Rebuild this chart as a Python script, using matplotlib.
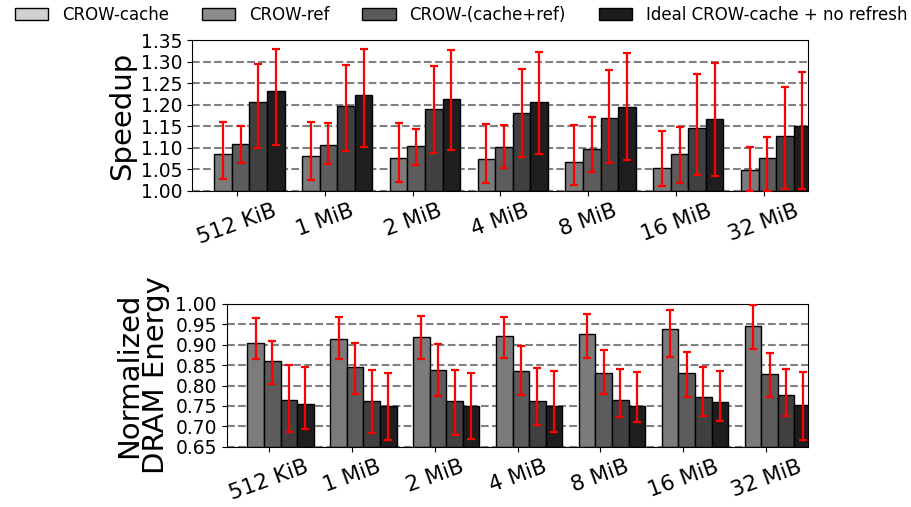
import numpy as np
import matplotlib
matplotlib.use("Agg")
import matplotlib.pyplot as plt
from matplotlib.patches import Patch

# Data
llc_sizes = ["512 KiB", "1 MiB", "2 MiB", "4 MiB", "8 MiB", "16 MiB", "32 MiB"]
legend_names = ["CROW-cache", "CROW-ref", "CROW-(cache+ref)", "Ideal CROW-cache + no refresh"]

speedup = [
    [1.085, 1.080, 1.076, 1.073, 1.067, 1.054, 1.048],
    [1.109, 1.107, 1.104, 1.101, 1.097, 1.085, 1.077],
    [1.206, 1.196, 1.189, 1.181, 1.170, 1.145, 1.128],
    [1.231, 1.222, 1.214, 1.206, 1.195, 1.168, 1.150],
]
speedup_hi = [
    [1.159, 1.159, 1.157, 1.155, 1.152, 1.140, 1.102],
    [1.151, 1.158, 1.144, 1.153, 1.171, 1.148, 1.125],
    [1.294, 1.292, 1.290, 1.283, 1.280, 1.271, 1.242],
    [1.329, 1.328, 1.327, 1.322, 1.320, 1.296, 1.275],
]
speedup_lo = [
    [1.028, 1.025, 1.021, 1.018, 1.015, 1.012, 1.000],
    [1.065, 1.062, 1.061, 1.054, 1.044, 1.019, 1.000],
    [1.100, 1.093, 1.088, 1.078, 1.066, 1.038, 1.005],
    [1.107, 1.102, 1.096, 1.086, 1.072, 1.035, 1.005],
]

energy = [
    [0.905, 0.914, 0.919, 0.922, 0.927, 0.938, 0.945],
    [0.859, 0.845, 0.839, 0.836, 0.832, 0.832, 0.828],
    [0.764, 0.762, 0.762, 0.762, 0.764, 0.773, 0.778],
    [0.754, 0.749, 0.749, 0.750, 0.750, 0.759, 0.752],
]
energy_hi = [
    [0.965, 0.969, 0.970, 0.969, 0.976, 0.985, 0.998],
    [0.909, 0.905, 0.903, 0.897, 0.888, 0.882, 0.881],
    [0.850, 0.837, 0.838, 0.842, 0.840, 0.845, 0.841],
    [0.845, 0.830, 0.831, 0.836, 0.833, 0.836, 0.834],
]
energy_lo = [
    [0.865, 0.865, 0.866, 0.867, 0.867, 0.871, 0.890],
    [0.803, 0.780, 0.774, 0.777, 0.779, 0.773, 0.773],
    [0.687, 0.683, 0.679, 0.703, 0.724, 0.725, 0.725],
    [0.693, 0.666, 0.669, 0.686, 0.711, 0.713, 0.666],
]

bar_colors = ["#7b7b7b", "#5c5c5c", "#404040", "#1e1e1e"]
legend_colors = ["#d0d0d0", "#8c8c8c", "#5a5a5a", "#1c1c1c"]

width = 0.2
x = np.arange(len(llc_sizes))


def draw_panel(ax, vals, lo, hi, ylim, yticks):
    for j in range(len(vals)):
        v = np.array(vals[j])
        yerr = [v - np.array(lo[j]), np.array(hi[j]) - v]
        pos = x - 0.16 + j * width
        ax.bar(pos, v - ylim[0], width, bottom=ylim[0], color=bar_colors[j],
               edgecolor="black", linewidth=1, zorder=2)
        ax.errorbar(pos, v, yerr=yerr, fmt="none", ecolor="red", elinewidth=1.6,
                    capsize=3, capthick=1.6, zorder=3)
    ax.set_ylim(*ylim)
    ax.set_yticks(yticks)
    ax.set_yticklabels([f"{t:.2f}" for t in yticks], fontsize=13.5)
    ax.set_xlim(-0.51, 6.5)
    ax.set_xticks(x)
    ax.set_xticklabels(llc_sizes, rotation=20, fontsize=15.5)
    ax.yaxis.grid(True, linestyle="--", color="grey", linewidth=1.5, zorder=0)
    ax.set_axisbelow(True)


fig = plt.figure(figsize=(9.12, 5.07), dpi=100)
ax1 = fig.add_axes([0.211, 0.6233, 0.6746, 0.2978])
ax2 = fig.add_axes([0.2485, 0.1189, 0.6371, 0.2815])

draw_panel(ax1, speedup, speedup_lo, speedup_hi, (1.0, 1.35),
           np.round(np.arange(1.0, 1.351, 0.05), 2))
ax1.set_ylabel("Speedup", fontsize=21)

draw_panel(ax2, energy, energy_lo, energy_hi, (0.65, 1.0),
           np.round(np.arange(0.65, 1.001, 0.05), 2))
ax2.set_ylabel("Normalized\nDRAM Energy", fontsize=21, linespacing=0.95)

handles = [Patch(facecolor=c, edgecolor="black", linewidth=1) for c in legend_colors]
fig.legend(handles, legend_names, loc="upper center", bbox_to_anchor=(0.5055, 1.008),
           ncol=4, frameon=False, fontsize=12, handlelength=2.0, handletextpad=0.8,
           columnspacing=2.0, borderaxespad=0.3, borderpad=0.3)

fig.savefig("out.png", dpi=100)
